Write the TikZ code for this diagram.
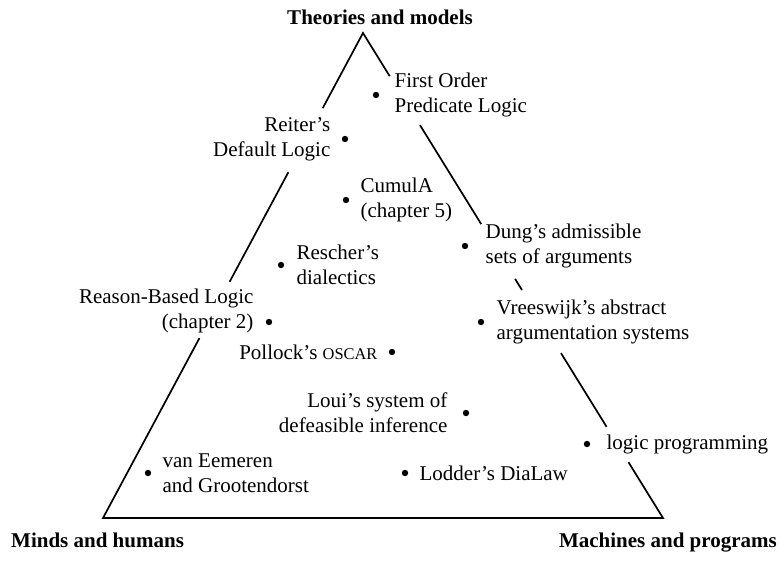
\documentclass[tikz,border=0pt]{standalone}
\usepackage{fontspec}
\setmainfont{Liberation Serif}
\usetikzlibrary{positioning,calc}

\begin{document}
\begin{tikzpicture}[x=1pt, y=-1pt, node distance=11pt]

    % Define styles
    \tikzstyle{side} = [draw, line width=1.7pt, line join=miter]
    \tikzstyle{dotmark} = [circle, fill=black, inner sep=0pt, minimum size=6.4pt]
    \tikzstyle{entry} = [inner sep=0pt, font=\fontsize{21}{25}\selectfont]
    \tikzstyle{pole} = [inner sep=0pt, font=\fontsize{21}{25}\selectfont\bfseries]

    \useasboundingbox (0,0) rectangle (782,560);

    % Corners of the triangle
    \coordinate (top) at (363,33);
    \coordinate (ml) at (103,518);
    \coordinate (mr) at (663,518);

    % Draw the sides, broken where the texts cross them
    \path [side] ($(top)!.155!(ml)$) -- (top) -- ($(top)!.089!(mr)$)
        ($(top)!.190!(mr)$) -- ($(top)!.394!(mr)$)
        ($(top)!.507!(mr)$) -- ($(top)!.530!(mr)$)
        ($(top)!.660!(mr)$) -- ($(top)!.812!(mr)$)
        ($(top)!.885!(mr)$) -- (mr) -- (ml) -- ($(top)!.629!(ml)$)
        ($(top)!.513!(ml)$) -- ($(top)!.287!(ml)$);

    % Place corner labels
    \node [pole, anchor=base] (theories) at (380,24) {Theories and models};
    \node [pole, anchor=base west] (minds) at (11,547) {Minds and humans};
    \node [pole, anchor=base east] (machines) at (777,547) {Machines and programs};

    % Place dots
    \node [dotmark] (fopl) at (376,95) {};
    \node [dotmark] (reiter) at (345,139) {};
    \node [dotmark] (cumula) at (346,200) {};
    \node [dotmark] (dung) at (465,246) {};
    \node [dotmark] (rescher) at (281,265) {};
    \node [dotmark] (rbl) at (269,322) {};
    \node [dotmark] (vrees) at (481,322) {};
    \node [dotmark] (oscar) at (392,352) {};
    \node [dotmark] (loui) at (466,413) {};
    \node [dotmark] (lp) at (587,444) {};
    \node [dotmark] (eemeren) at (148,473) {};
    \node [dotmark] (dialaw) at (405,473) {};

    % Place texts
    \node [entry, align=left, right=15pt of fopl] (fopltext) {First Order\\Predicate Logic};
    \node [entry, align=right, left=of reiter] (reitertext) {Reiter's\\Default Logic};
    \node [entry, align=left, right=of cumula] (cumulatext) {CumulA\\(chapter 5)};
    \node [entry, align=left, right=17pt of dung] (dungtext) {Dung's admissible\\sets of arguments};
    \node [entry, align=left, right=12pt of rescher] (reschertext) {Rescher's\\dialectics};
    \node [entry, align=right, left=12pt of rbl, yshift=11pt] (rbltext) {Reason-Based Logic\\(chapter 2)};
    \node [entry, align=left, right=12pt of vrees] (vreestext) {Vreeswijk's abstract\\argumentation systems};
    \node [entry, left=of oscar] (oscartext) {Pollock's {\fontsize{16.4}{25}\selectfont OSCAR}};
    \node [entry, align=right, left=15pt of loui] (louitext) {Loui's system of\\defeasible inference};
    \node [entry, right=16pt of lp] (lptext) {logic programming};
    \node [entry, align=left, right=of eemeren] (eemerentext) {van Eemeren\\and Grootendorst};
    \node [entry, right=of dialaw] (dialawtext) {Lodder's DiaLaw};

\end{tikzpicture}
\end{document}
